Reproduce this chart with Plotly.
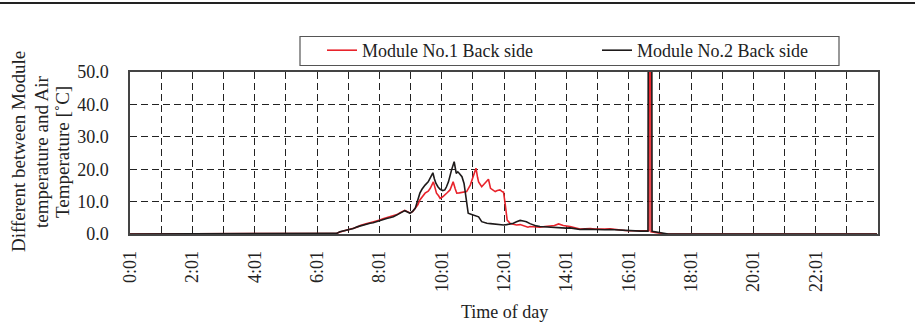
import plotly.graph_objects as go

DAY = "2020-01-01 "

# Module No.1 back side (red) - time of day, temperature difference [°C]
m1_time = ["00:01", "06:30", "06:39", "06:45", "06:52", "06:58", "07:05", "07:11", "07:18", "07:24",
           "07:30", "07:37", "07:43", "07:49", "07:56", "08:02", "08:08", "08:15", "08:21", "08:28",
           "08:35", "08:41", "08:45", "08:50", "08:55", "09:00", "09:05", "09:10", "09:15", "09:19",
           "09:24", "09:29", "09:35", "09:39", "09:45", "09:48", "09:51", "09:55", "09:58", "10:03",
           "10:07", "10:12", "10:17", "10:23", "10:27", "10:30", "10:35", "10:40", "10:45", "10:49",
           "10:56", "11:02", "11:07", "11:10", "11:12", "11:18", "11:24", "11:31", "11:35", "11:40",
           "11:44", "11:48", "11:53", "11:58", "12:00", "12:03", "12:07", "12:13", "12:19", "12:25",
           "12:32", "12:38", "12:47", "12:51", "13:00", "13:10", "13:20", "13:30", "13:38", "13:46",
           "13:55", "14:08", "14:17", "14:27", "14:37", "14:47", "14:56", "15:06", "15:15", "15:25",
           "15:34", "15:44", "15:54", "16:04", "16:13", "16:23", "16:32", "16:40", "16:41", "16:43",
           "16:44", "16:55", "17:02", "17:10", "23:59"]
m1_val = [0.0, 0.0, 0.2, 0.6, 0.9, 1.2, 1.5, 1.8, 2.1, 2.6,
          2.8, 3.2, 3.5, 3.7, 4.0, 4.3, 4.7, 5.0, 5.2, 5.5,
          6.0, 6.6, 7.0, 7.3, 6.9, 6.5, 6.9, 7.8, 9.0, 10.5,
          11.5, 12.6, 13.2, 14.1, 16.1, 14.0, 12.6, 11.8, 11.0, 11.5,
          12.0, 12.8, 13.6, 16.1, 14.0, 12.6, 12.7, 12.8, 13.0, 13.1,
          15.1, 18.2, 20.3, 17.5, 16.1, 14.6, 15.6, 16.9, 14.1, 13.5,
          13.1, 13.4, 13.6, 13.0, 12.9, 9.5, 4.3, 3.2, 3.0, 2.8,
          2.9, 2.5, 2.1, 2.3, 2.2, 2.1, 2.3, 2.5, 2.6, 3.1,
          2.6, 2.3, 1.9, 1.5, 1.6, 1.7, 1.5, 1.4, 1.5, 1.6,
          1.4, 1.2, 1.1, 1.0, 1.0, 1.0, 1.0, 1.0, 100.0, 100.0,
          0.7, 0.5, 0.3, 0.0, 0.0]

# Module No.2 back side (black)
m2_time = ["00:01", "06:30", "06:39", "06:45", "06:52", "06:58", "07:05", "07:11", "07:18", "07:24",
           "07:30", "07:37", "07:43", "07:49", "07:56", "08:02", "08:08", "08:15", "08:21", "08:28",
           "08:35", "08:41", "08:45", "08:50", "08:55", "09:00", "09:05", "09:10", "09:15", "09:19",
           "09:23", "09:26", "09:29", "09:35", "09:40", "09:44", "09:47", "09:50", "09:54", "09:58",
           "10:03", "10:07", "10:10", "10:14", "10:20", "10:25", "10:29", "10:32", "10:35", "10:40",
           "10:44", "10:48", "10:52", "10:56", "11:02", "11:07", "11:12", "11:18", "11:24", "11:28",
           "11:35", "11:40", "11:47", "11:53", "12:00", "12:06", "12:13", "12:19", "12:25", "12:32",
           "12:38", "12:44", "12:51", "12:57", "13:03", "13:10", "13:20", "13:30", "13:40", "13:49",
           "14:00", "14:08", "14:17", "14:27", "14:37", "14:47", "14:56", "15:06", "15:15", "15:25",
           "15:34", "15:44", "15:54", "16:04", "16:13", "16:23", "16:32", "16:38", "16:39", "16:45",
           "16:46", "16:55", "17:02", "17:08", "17:17", "23:59"]
m2_val = [0.0, 0.0, 0.2, 0.7, 1.0, 1.2, 1.4, 1.7, 2.2, 2.5,
          2.7, 3.1, 3.3, 3.5, 3.9, 4.1, 4.6, 4.8, 5.0, 5.3,
          5.9, 6.4, 6.8, 7.2, 6.8, 6.4, 7.0, 7.9, 10.5, 12.6,
          13.8, 14.6, 15.1, 16.1, 17.5, 18.9, 17.0, 15.6, 14.5, 13.8,
          13.4, 13.6, 14.5, 16.1, 19.8, 22.3, 18.7, 19.2, 18.7, 17.7,
          15.6, 10.5, 6.4, 6.2, 5.9, 5.6, 5.3, 3.8, 3.4, 3.3,
          3.2, 3.1, 2.9, 2.8, 2.8, 2.9, 3.1, 3.3, 3.8, 4.2,
          4.0, 3.8, 3.2, 2.8, 2.5, 2.3, 2.2, 2.1, 1.9, 1.7,
          1.8, 1.9, 1.6, 1.4, 1.5, 1.4, 1.3, 1.2, 1.3, 1.4,
          1.3, 1.2, 1.1, 1.0, 1.0, 0.9, 0.9, 0.9, 100.0, 100.0,
          0.8, 0.6, 0.4, 0.3, 0.0, 0.0]

series_names = ["Module No.1 Back side", "Module No.2 Back side"]
y_ticks = [0, 10, 20, 30, 40, 50]
y_title_lines = ["Different between Module", "temperature and Air", "Temperature [˚C]"]

FONT = "Liberation Serif"
L, R, T, B, W, H = 130, 37, 72, 100, 915, 334
PW, PH = W - L - R, H - T - B


def px_x(p):
    return (p - L) / PW


def px_y(p):
    return 1 + (T - p) / PH


fig = go.Figure()
fig.add_trace(go.Scatter(x=[DAY + t for t in m1_time], y=m1_val, mode="lines",
                         name=series_names[0], line=dict(color="#e8232b", width=1.6)))
fig.add_trace(go.Scatter(x=[DAY + t for t in m2_time], y=m2_val, mode="lines",
                         name=series_names[1], line=dict(color="#1e1a1a", width=1.6)))

title_x = [18, 41, 62]
annotations = [
    dict(text=txt, xref="paper", yref="paper", x=px_x(xp), y=px_y(152),
         xanchor="center", yanchor="middle", textangle=-90, showarrow=False,
         font=dict(family=FONT, size=19, color="#222"))
    for txt, xp in zip(y_title_lines, title_x)
]
annotations.append(dict(text="Time of day", xref="paper", yref="paper", x=0.5, y=px_y(312),
                        xanchor="center", yanchor="middle", showarrow=False,
                        font=dict(family=FONT, size=18, color="#222")))

fig.update_layout(
    width=W, height=H,
    margin=dict(l=L, r=R, t=T, b=B, autoexpand=False),
    paper_bgcolor="white", plot_bgcolor="white",
    font=dict(family=FONT, size=18, color="#222"),
    showlegend=True,
    legend=dict(orientation="h", x=px_x(300), xanchor="left", y=px_y(32), yanchor="top",
                borderwidth=0, bgcolor="rgba(0,0,0,0)",
                font=dict(family=FONT, size=18, color="#222"),
                entrywidth=208, entrywidthmode="pixels", indentation=22,
                tracegroupgap=0),
    xaxis=dict(
        type="date", automargin=False,
        range=["2020-01-01 00:01", "2020-01-02 00:00:50"],
        tick0="2020-01-01 00:01", dtick=7200000,
        tickformat="%-H:%M", tickangle=-90,
        showgrid=True, gridcolor="#222", griddash="7px,4px", gridwidth=1,
        minor=dict(dtick=3600000, tick0="2020-01-01 00:01", showgrid=True,
                   gridcolor="#222", griddash="7px,4px", gridwidth=1),
        showline=True, linecolor="#444", linewidth=1.5, mirror=True,
        ticks="", ticklabelstandoff=8, zeroline=False,
        tickfont=dict(family=FONT, size=18, color="#222"),
    ),
    yaxis=dict(
        automargin=False,
        range=[0, 50], tickvals=y_ticks, tickformat=".1f",
        showgrid=True, gridcolor="#222", griddash="7px,4px", gridwidth=1,
        showline=True, linecolor="#444", linewidth=1.5, mirror=True,
        ticks="", ticklabelstandoff=16, zeroline=False,
        tickfont=dict(family=FONT, size=18, color="#222"),
    ),
    annotations=annotations,
    shapes=[
        dict(type="line", xref="paper", yref="paper", x0=px_x(-20), x1=px_x(940),
             y0=px_y(3), y1=px_y(3), line=dict(color="#222", width=2)),
        dict(type="rect", xref="paper", yref="paper", x0=px_x(300), x1=px_x(839),
             y0=px_y(36.5), y1=px_y(65.5), line=dict(color="#555", width=1.2),
             fillcolor="white", layer="below"),
    ],
)

fig.write_html("out.html", config={"displayModeBar": False},
               post_script="document.body.style.margin='0';document.body.style.padding='0';")
